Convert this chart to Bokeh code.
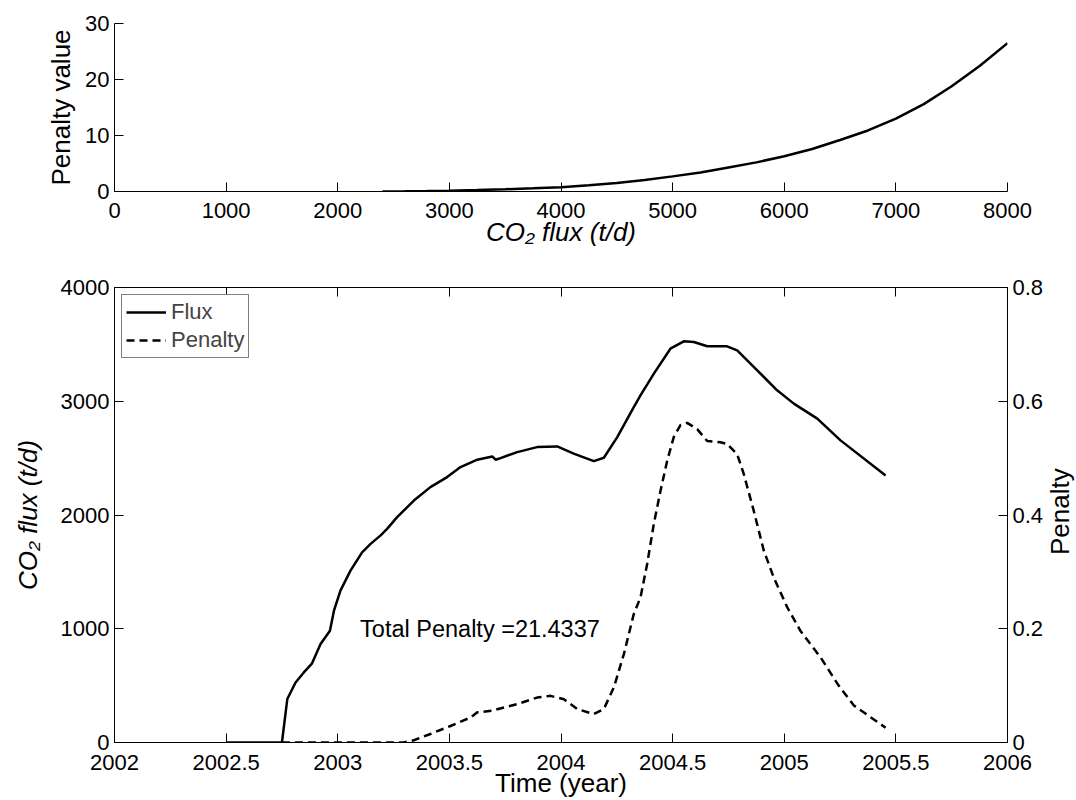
import math
from bokeh.plotting import figure
from bokeh.models import (Range1d, LinearAxis, FixedTicker, NumeralTickFormatter,
                          Legend, LegendItem, Label)
from bokeh.layouts import column, row
from bokeh.embed import file_html
from bokeh.resources import INLINE

# ---- data: penalty function (top panel) ----
pen_curve_flux = [2400, 2600, 2800, 3000, 3250, 3500, 3750, 4000, 4250, 4500, 4750,
                  5000, 5250, 5500, 5750, 6000, 6250, 6500, 6750, 7000, 7250, 7500,
                  7750, 8000]
pen_curve_value = [0.0, 0.03, 0.08, 0.15, 0.27, 0.40, 0.56, 0.75, 1.1, 1.5, 2.05,
                   2.7, 3.4, 4.3, 5.2, 6.3, 7.6, 9.2, 10.9, 13.0, 15.6, 18.8,
                   22.4, 26.5]

# ---- data: flux time series (bottom panel, left axis) ----
flux_time = [2002.50, 2002.75, 2002.774, 2002.811, 2002.848, 2002.885, 2002.923,
             2002.965, 2002.983, 2003.012, 2003.057, 2003.109, 2003.147, 2003.191,
             2003.221, 2003.266, 2003.341, 2003.415, 2003.49, 2003.55, 2003.625,
             2003.692, 2003.707, 2003.72, 2003.804, 2003.893, 2003.983, 2004.057,
             2004.147, 2004.192, 2004.252, 2004.326, 2004.356, 2004.416, 2004.49,
             2004.55, 2004.595, 2004.655, 2004.744, 2004.789, 2004.879, 2004.968,
             2005.043, 2005.148, 2005.252, 2005.454]
flux_value = [0, 0, 382, 528, 616, 696, 866,
              983, 1159, 1335, 1511, 1672, 1746, 1819,
              1878, 1981, 2127, 2245, 2333, 2421, 2486,
              2515, 2486, 2494, 2553, 2597, 2603, 2539,
              2474, 2503, 2685, 2949, 3052, 3243, 3462,
              3527, 3521, 3483, 3483, 3448, 3272, 3096,
              2979, 2847, 2656, 2348]

# ---- data: penalty time series (bottom panel, right axis) ----
penalty_time = [2002.75, 2003.296, 2003.341, 2003.415, 2003.505, 2003.595, 2003.625,
                2003.692, 2003.804, 2003.893, 2003.953, 2004.013, 2004.072, 2004.147,
                2004.192, 2004.237, 2004.282, 2004.326, 2004.356, 2004.386, 2004.416,
                2004.446, 2004.476, 2004.505, 2004.535, 2004.565, 2004.61, 2004.655,
                2004.714, 2004.744, 2004.789, 2004.818, 2004.863, 2004.908, 2004.953,
                2005.013, 2005.073, 2005.162, 2005.244, 2005.312, 2005.454]
penalty_value = [0, 0, 0.004, 0.015, 0.029, 0.044, 0.053,
                 0.056, 0.0675, 0.079, 0.082, 0.076, 0.059, 0.050,
                 0.059, 0.097, 0.156, 0.226, 0.255, 0.314, 0.385,
                 0.443, 0.496, 0.537, 0.558, 0.562, 0.551, 0.530,
                 0.528, 0.525, 0.507, 0.473, 0.408, 0.338, 0.290,
                 0.238, 0.196, 0.150, 0.100, 0.065, 0.026]

top_x_ticks = [0, 1000, 2000, 3000, 4000, 5000, 6000, 7000, 8000]
top_y_ticks = [0, 10, 20, 30]
time_ticks = [2002, 2002.5, 2003, 2003.5, 2004, 2004.5, 2005, 2005.5, 2006]
flux_ticks = [0, 1000, 2000, 3000, 4000]
penalty_ticks = [0, 0.2, 0.4, 0.6, 0.8]
total_penalty_text = "Total Penalty =21.4337"
right_axis_title = "Penalty"

FONT = "Liberation Sans"
TICK_SIZE = "22px"
LABEL_SIZE = "26px"


def style_axis(ax, ticks, fmt, label=None, italic=False):
    ax.ticker = FixedTicker(ticks=ticks)
    ax.formatter = NumeralTickFormatter(format=fmt)
    ax.major_tick_in = 9
    ax.major_tick_out = 0
    ax.minor_tick_line_color = None
    ax.axis_line_color = "black"
    ax.axis_line_width = 1
    ax.major_tick_line_color = "black"
    ax.major_label_text_font = FONT
    ax.major_label_text_font_size = TICK_SIZE
    ax.major_label_text_color = "black"
    ax.major_label_standoff = 5
    if label is not None:
        ax.axis_label = label
        ax.axis_label_text_font = FONT
        ax.axis_label_text_font_size = LABEL_SIZE
        ax.axis_label_text_color = "black"
        ax.axis_label_text_font_style = "italic" if italic else "normal"


# ---------------- top panel ----------------
p1 = figure(width=1076, height=258, x_range=Range1d(0, 8000), y_range=Range1d(0, 30),
            output_backend="svg", toolbar_location=None,
            min_border_left=114, min_border_right=69, min_border_top=23,
            min_border_bottom=67)
p1.outline_line_color = None
p1.xgrid.visible = False
p1.ygrid.visible = False
p1.line(pen_curve_flux, pen_curve_value, line_width=2.5, line_color="black")
style_axis(p1.xaxis[0], top_x_ticks, "0", "CO\u2082 flux (t/d)", italic=True)
style_axis(p1.yaxis[0], top_y_ticks, "0", "Penalty value")
p1.xaxis[0].major_label_standoff = 11
p1.xaxis[0].axis_label_standoff = -4
p1.yaxis[0].axis_label_standoff = 6

# ---------------- bottom panel ----------------
p2 = figure(width=1046, height=542, x_range=Range1d(2002, 2006), y_range=Range1d(0, 4000),
            output_backend="svg", toolbar_location=None,
            min_border_left=114, min_border_right=39, min_border_top=29,
            min_border_bottom=58)
p2.extra_y_ranges = {"pen": Range1d(0, 0.8)}
p2.outline_line_color = "black"
p2.xgrid.visible = False
p2.ygrid.visible = False

r_flux = p2.line(flux_time, flux_value, line_width=2.5, line_color="black")
r_pen = p2.line(penalty_time, penalty_value, y_range_name="pen", line_width=2.5,
                line_color="black", line_dash="8 5")

style_axis(p2.xaxis[0], time_ticks, "0.[0]", "Time (year)")
p2.xaxis[0].major_label_standoff = 12
p2.xaxis[0].axis_label_standoff = -5
style_axis(p2.yaxis[0], flux_ticks, "0", "CO\u2082 flux (t/d)", italic=True)
p2.yaxis[0].axis_label_standoff = 15

right_ax = LinearAxis(y_range_name="pen")
style_axis(right_ax, penalty_ticks, "0.[0]")
p2.add_layout(right_ax, "right")

top_ax = LinearAxis()
style_axis(top_ax, time_ticks, "0.[0]")
top_ax.major_label_overrides = {t: "" for t in time_ticks}
top_ax.major_label_standoff = 0
p2.add_layout(top_ax, "above")

p2.add_layout(Label(x=2003.1, y=1000, text=total_penalty_text,
                    text_align="left", text_baseline="middle",
                    text_font=FONT, text_font_size="23.5px", text_color="black"))

legend = Legend(items=[LegendItem(label="Flux", renderers=[r_flux]),
                       LegendItem(label="Penalty", renderers=[r_pen])],
                location="top_left")
legend.border_line_color = "black"
legend.border_line_width = 1
legend.background_fill_color = "white"
legend.background_fill_alpha = 1
legend.label_text_font = FONT
legend.label_text_font_size = "22px"
legend.glyph_width = 40
legend.glyph_height = 20
legend.label_height = 20
legend.spacing = 2
legend.padding = 4
legend.margin = 7
legend.label_standoff = 5
p2.add_layout(legend)

# ---------------- strip holding the right-axis title (reads bottom to top) ----------------
p_side = figure(width=30, height=542, x_range=Range1d(0, 30), y_range=Range1d(0, 542),
                output_backend="svg", toolbar_location=None,
                x_axis_location=None, y_axis_location=None,
                min_border_left=0, min_border_right=0, min_border_top=0,
                min_border_bottom=0)
p_side.outline_line_color = None
p_side.xgrid.visible = False
p_side.ygrid.visible = False
p_side.add_layout(Label(x=13, y=275, text=right_axis_title, angle=math.pi / 2,
                        text_align="center", text_baseline="middle",
                        text_font=FONT, text_font_size=LABEL_SIZE, text_color="black"))

layout = column(p1, row(p2, p_side, spacing=0), spacing=0)
open("out.html", "w").write(file_html(layout, INLINE))
